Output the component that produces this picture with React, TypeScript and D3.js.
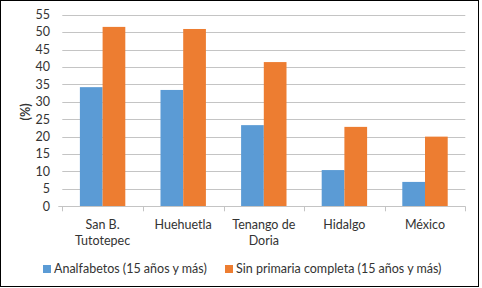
import React from "react";
import * as d3 from "d3";

const categories = ["San B. Tutotepec", "Huehuetla", "Tenango de Doria", "Hidalgo", "México"];
const categoryLines = [["San B.", "Tutotepec"], ["Huehuetla"], ["Tenango de", "Doria"], ["Hidalgo"], ["México"]];
const seriesNames = ["Analfabetos (15 años y más)", "Sin primaria completa (15 años y más)"];
const analfabetos = [34.2, 33.4, 23.3, 10.4, 7.0];
const sinPrimaria = [51.5, 50.9, 41.4, 22.8, 20.0];
const yTicks = [0, 5, 10, 15, 20, 25, 30, 35, 40, 45, 50, 55];
const colors = ["#5B9BD5", "#ED7D31"];

const W = 482;
const H = 288;
const FONT = "Lato, 'Open Sans', sans-serif";
const FS = 12.5;

export default function App() {
  const x = d3.scaleBand<string>().domain(categories).range([62.3, 465.3]).paddingInner(0).paddingOuter(0);
  const xs = d3.scaleBand<string>().domain(seriesNames).range([0, x.bandwidth()]).paddingInner(0).paddingOuter(0.775);
  const y = d3.scaleLinear().domain([0, 55]).range([206.3, 14.7]);
  const values = [analfabetos, sinPrimaria];
  const textColor = "#333333";
  const grid = "#C4C4C4";
  const x0 = x.range()[0];
  const x1 = x.range()[1];

  return (
    <div style={{ position: "absolute", left: 0, top: 0 }}>
      <svg width={W} height={H} style={{ display: "block" }} fontFamily={FONT}>
        <rect x={0} y={0} width={W} height={H} fill="#fff" />
        <rect x={0.5} y={0.5} width={478} height={286} fill="none" stroke="#000" strokeWidth={1} />
        {yTicks.map((t) => (
          <g key={t}>
            {t !== 0 && (
              <line x1={x0} x2={x1} y1={Math.round(y(t)) + 0.5} y2={Math.round(y(t)) + 0.5} stroke={grid} strokeWidth={1} />
            )}
            <text x={50} y={y(t)} dy="0.35em" textAnchor="end" fontSize={FS} fill={textColor}>
              {t}
            </text>
          </g>
        ))}
        {seriesNames.map((s, si) =>
          categories.map((c, ci) => (
            <rect
              key={s + c}
              x={(x(c) as number) + (xs(s) as number)}
              y={y(values[si][ci])}
              width={xs.bandwidth()}
              height={y(0) - y(values[si][ci])}
              fill={colors[si]}
            />
          ))
        )}
        <line x1={x0 - 4} x2={x1} y1={Math.round(y(0)) + 0.5} y2={Math.round(y(0)) + 0.5} stroke={grid} strokeWidth={1} />
        {[...categories.map((c) => x(c) as number), x1].map((v, i) => (
          <line key={i} x1={Math.round(v) + 0.5} x2={Math.round(v) + 0.5} y1={y(0)} y2={y(0) + 5} stroke={grid} strokeWidth={1} />
        ))}
        {categories.map((c, ci) => (
          <text key={c} x={(x(c) as number) + x.bandwidth() / 2} y={228} textAnchor="middle" fontSize={FS} fill={textColor}>
            {categoryLines[ci].map((l, li) => (
              <tspan key={li} x={(x(c) as number) + x.bandwidth() / 2} y={228.5 + li * 16}>
                {l}
              </tspan>
            ))}
          </text>
        ))}
        <text transform={`translate(30,112) rotate(-90)`} textAnchor="middle" fontSize={FS} fontWeight="bold" fill={textColor}>
          (%)
        </text>
        {seriesNames.map((s, si) => {
          const lx = si === 0 ? 43 : 225;
          return (
            <g key={s}>
              <rect x={lx} y={265} width={8} height={8} fill={colors[si]} />
              <text x={lx + 11} y={269} dy="0.35em" fontSize={FS} fill={textColor}>
                {s}
              </text>
            </g>
          );
        })}
      </svg>
    </div>
  );
}
